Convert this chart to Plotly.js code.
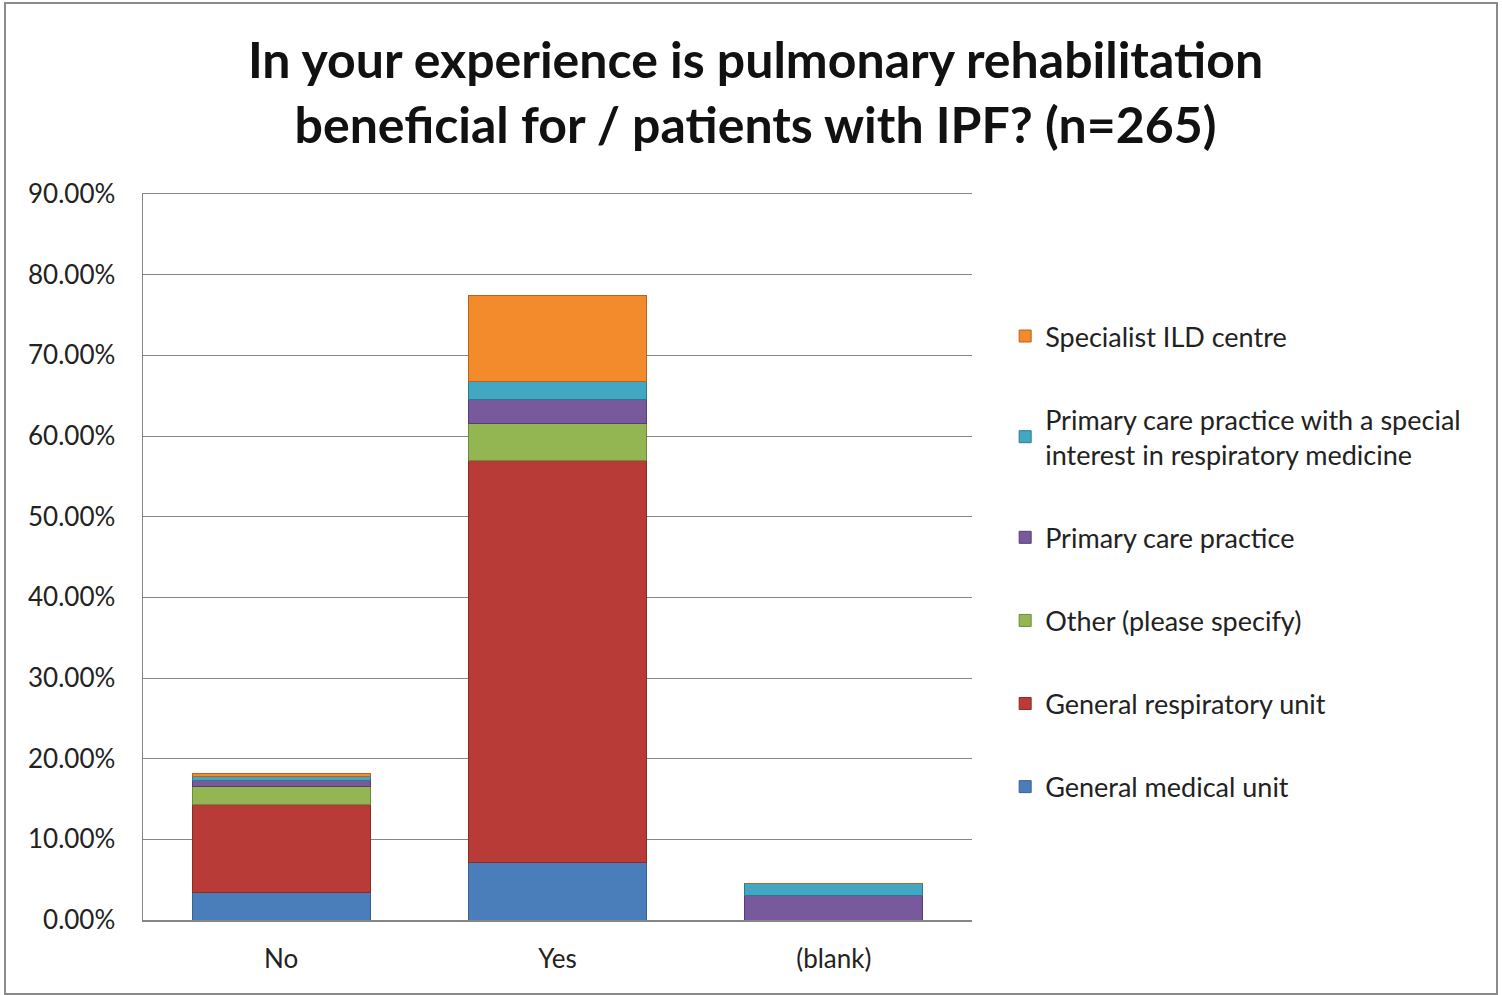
<!DOCTYPE html>
<html>
<head>
<meta charset="utf-8">
<script src="https://cdn.plot.ly/plotly-3.0.1.min.js"></script>
<style>
  html, body { margin: 0; padding: 0; background: #fff; }
  #chart { width: 1502px; height: 995px; position: absolute; left: 0; top: 0; }
  #frame { position: absolute; left: 4px; top: 2px; width: 1490px; height: 989px; border: 2px solid #8a8a8a; pointer-events: none; }
</style>
</head>
<body>
<div id="chart"></div>
<div id="frame"></div>
<script>
const categories = ["No", "Yes", "(blank)"];
const generalMedicalUnit = [3.40, 7.17, 0];
const generalRespiratoryUnit = [10.94, 49.81, 0];
const otherPleaseSpecify = [2.26, 4.53, 0];
const primaryCarePractice = [0.75, 3.02, 3.02];
const primaryCareRespInterest = [0.38, 2.26, 1.51];
const specialistILDCentre = [0.38, 10.57, 0];
const yTicks = [0, 10, 20, 30, 40, 50, 60, 70, 80, 90];
const yTickText = ["0.00%", "10.00%", "20.00%", "30.00%", "40.00%", "50.00%", "60.00%", "70.00%", "80.00%", "90.00%"];

const seriesDefs = [
  {name: "General medical unit", values: generalMedicalUnit, color: "#4a7ebb", line: "#3a6290"},
  {name: "General respiratory unit", values: generalRespiratoryUnit, color: "#b83b38", line: "#8c2a28"},
  {name: "Other (please specify)", values: otherPleaseSpecify, color: "#93b652", line: "#6d8a3a"},
  {name: "Primary care practice", values: primaryCarePractice, color: "#77599c", line: "#553f72"},
  {name: "Primary care practice with a special<br>interest in respiratory medicine", values: primaryCareRespInterest, color: "#42a7c2", line: "#2c7a8f"},
  {name: "Specialist ILD centre", values: specialistILDCentre, color: "#f38a2b", line: "#b5651e"}
];

const traces = seriesDefs.map((s, i) => ({
  type: "bar",
  x: categories,
  y: s.values,
  name: s.name,
  legendgroup: "g" + i,
  legendrank: seriesDefs.length - i,
  marker: {color: s.color, line: {color: s.line, width: 1}},
  hoverinfo: "x+y+name"
}));

const layout = {
  width: 1502,
  height: 995,
  paper_bgcolor: "#ffffff",
  plot_bgcolor: "#ffffff",
  barmode: "stack",
  bargap: 0.356,
  font: {family: "Lato, 'Open Sans', sans-serif", color: "#222", size: 26},
  margin: {l: 143, r: 530, t: 194, b: 75},
  title: {
    text: "<b>In your experience is pulmonary rehabilitation<br>beneficial for / patients with IPF? (n=265)</b>",
    font: {family: "Lato, 'Open Sans', sans-serif", size: 50, color: "#111"},
    xref: "container", x: 0.503, xanchor: "center",
    yref: "container", y: 0.922, yanchor: "middle"
  },
  xaxis: {
    type: "category",
    showline: true,
    mirror: true,
    linecolor: "#868686",
    linewidth: 1.5,
    ticks: "",
    ticklabelstandoff: 15,
    tickfont: {size: 26, color: "#222"},
    showgrid: false
  },
  yaxis: {
    range: [0, 90],
    tickvals: yTicks,
    ticktext: yTickText,
    showgrid: true,
    gridcolor: "#868686",
    gridwidth: 1,
    showline: true,
    linecolor: "#868686",
    linewidth: 1.5,
    zeroline: false,
    ticks: "",
    ticklabelstandoff: 21,
    tickfont: {size: 26, color: "#222"}
  },
  legend: {
    x: 1.040, xanchor: "left",
    y: 0.8375, yanchor: "top",
    traceorder: "grouped",
    tracegroupgap: 45,
    font: {size: 27, color: "#222"},
    itemwidth: 30,
    bgcolor: "rgba(0,0,0,0)"
  },
  showlegend: true
};

Plotly.newPlot("chart", traces, layout, {displayModeBar: false, staticPlot: true});
</script>
</body>
</html>
